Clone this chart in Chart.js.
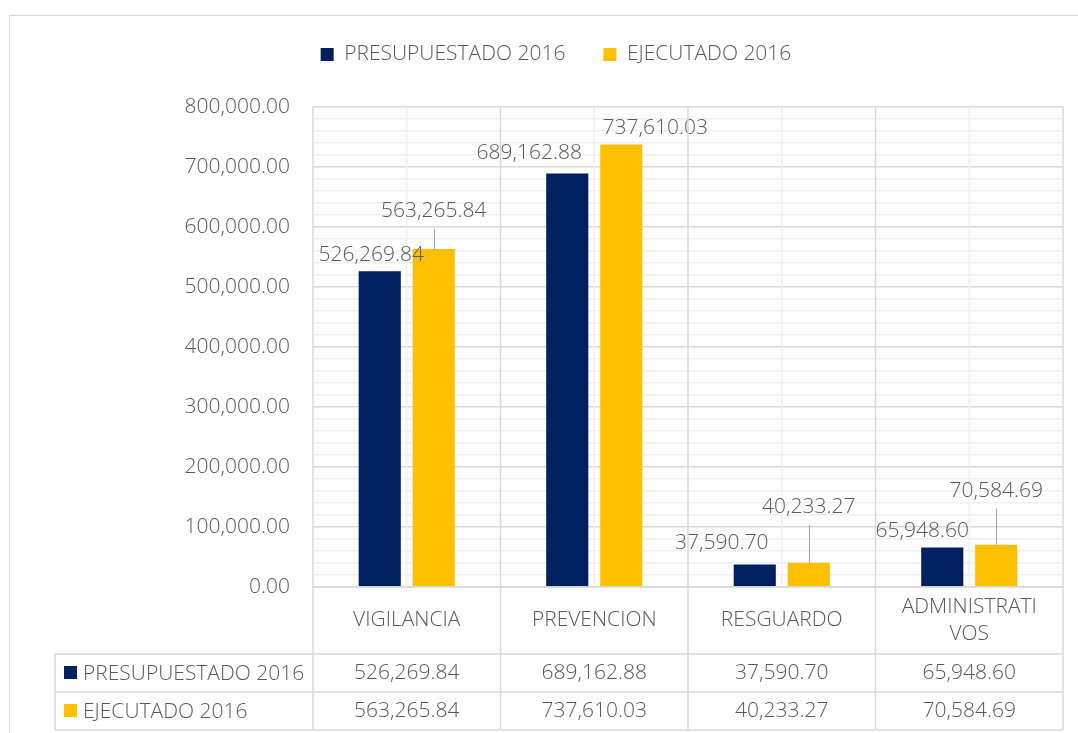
<!DOCTYPE html>
<html>
<head>
<meta charset="utf-8">
<script src="https://cdn.jsdelivr.net/npm/chart.js@4"></script>
<style>
  html, body { margin: 0; padding: 0; background: #fff; }
  #wrap { width: 1078px; height: 733px; position: relative; }
</style>
</head>
<body>
<div id="wrap"><canvas id="chart1"></canvas></div>
<script>
const categories = ['VIGILANCIA', 'PREVENCION', 'RESGUARDO', ['ADMINISTRATI', 'VOS']];
const presupuestado = [526269.84, 689162.88, 37590.70, 65948.60];
const ejecutado = [563265.84, 737610.03, 40233.27, 70584.69];
const seriesNames = ['PRESUPUESTADO 2016', 'EJECUTADO 2016'];
const yMax = 800000;

// label offsets from the bar top (px), per series
const labelShift = [
    [[-8.5, -16], [-38, -20], [-33, -21], [-20, -16.5]],
    [[0, -38], [34, -16], [0, -56], [0, -54]]
];

const txt = '#595959';
const fontFam = '"Open Sans", "Noto Sans", sans-serif';
const fs = 21;
const fmt = v => v.toLocaleString('en-US', { minimumFractionDigits: 2, maximumFractionDigits: 2 });

const tableRowTop = 654;
const tableRowH = 38;
const tableLeft = 55;

const framePlugin = {
    id: 'frame',
    beforeDraw(chart) {
        const ctx = chart.ctx;
        ctx.save();
        ctx.fillStyle = '#fff';
        ctx.fillRect(0, 0, chart.width, chart.height);
        ctx.strokeStyle = '#d9d9d9';
        ctx.lineWidth = 1;
        ctx.strokeRect(9.5, 15.5, 1200, 800);
        ctx.restore();
    },
    beforeInit(chart) {
        const fit = chart.legend.fit;
        chart.legend.fit = function () {
            fit.call(this);
            this.height += 32;
        };
    }
};

const gridPlugin = {
    id: 'vgrid',
    beforeDatasetsDraw(chart) {
        const ctx = chart.ctx, x = chart.scales.x, a = chart.chartArea;
        ctx.save();
        ctx.lineWidth = 1.5;
        categories.forEach((c, i) => {
            const px = x.getPixelForValue(i);
            ctx.strokeStyle = '#f0f0f0';
            ctx.beginPath(); ctx.moveTo(px, a.top); ctx.lineTo(px, a.bottom); ctx.stroke();
        });
        ctx.restore();
    }
};

const tablePlugin = {
    id: 'table',
    afterDraw(chart) {
        const ctx = chart.ctx, x = chart.scales.x, a = chart.chartArea;
        const w = x.width / categories.length;
        const bottom = tableRowTop + tableRowH * 2;
        ctx.save();
        ctx.strokeStyle = '#d9d9d9';
        ctx.lineWidth = 1.5;
        ctx.beginPath();
        ctx.moveTo(a.left, a.top); ctx.lineTo(a.left, bottom);
        categories.forEach((c, i) => {
            const px = x.getPixelForValue(i) + w / 2;
            ctx.moveTo(px, a.top); ctx.lineTo(px, bottom);
        });
        ctx.moveTo(tableLeft, tableRowTop); ctx.lineTo(tableLeft, bottom);
        ctx.moveTo(a.left, a.bottom); ctx.lineTo(a.right, a.bottom);
        for (let r = 0; r <= 2; r++) {
            const y = tableRowTop + r * tableRowH;
            ctx.moveTo(tableLeft, y); ctx.lineTo(a.right, y);
        }
        ctx.stroke();

        ctx.font = '300 ' + fs + 'px ' + fontFam;
        ctx.fillStyle = txt;
        ctx.textAlign = 'center';
        ctx.textBaseline = 'middle';
        const headMid = (a.bottom + tableRowTop) / 2;
        categories.forEach((c, i) => {
            const px = x.getPixelForValue(i);
            const lines = Array.isArray(c) ? c : [c];
            lines.forEach((ln, k) => {
                ctx.fillText(ln, px, headMid + (k - (lines.length - 1) / 2) * 27);
            });
        });
        const rows = [presupuestado, ejecutado];
        rows.forEach((vals, r) => {
            const cy = tableRowTop + r * tableRowH + tableRowH / 2;
            vals.forEach((v, i) => {
                ctx.fillStyle = txt;
                ctx.textAlign = 'center';
                ctx.fillText(fmt(v), x.getPixelForValue(i), cy);
            });
            const ds = chart.data.datasets[r];
            ctx.fillStyle = ds.backgroundColor;
            ctx.fillRect(64, cy - 7, 13, 13);
            ctx.fillStyle = txt;
            ctx.textAlign = 'left';
            ctx.fillText(ds.label, 83, cy + 1);
        });
        ctx.restore();
    }
};

const labelPlugin = {
    id: 'barLabels',
    afterDatasetsDraw(chart) {
        const ctx = chart.ctx;
        ctx.save();
        ctx.font = '300 ' + fs + 'px ' + fontFam;
        ctx.textAlign = 'center';
        ctx.textBaseline = 'middle';
        chart.data.datasets.forEach((ds, d) => {
            chart.getDatasetMeta(d).data.forEach((bar, i) => {
                const [dx, dy] = labelShift[d][i];
                const lx = bar.x + dx, ly = bar.y + dy;
                if (dy < -30) {
                    ctx.strokeStyle = '#a6a6a6';
                    ctx.lineWidth = 1;
                    ctx.beginPath();
                    ctx.moveTo(Math.round(bar.x) + 0.5, ly + 18);
                    ctx.lineTo(Math.round(bar.x) + 0.5, bar.y);
                    ctx.stroke();
                }
                ctx.fillStyle = txt;
                ctx.fillText(fmt(ds.data[i]), lx, ly);
            });
        });
        ctx.restore();
    }
};

const data = {
    labels: categories,
    datasets: [{
        label: seriesNames[0],
        data: presupuestado,
        backgroundColor: '#002060'
    }, {
        label: seriesNames[1],
        data: ejecutado,
        backgroundColor: '#FFC000'
    }]
};

const config = {
    type: 'bar',
    data,
    plugins: [framePlugin, gridPlugin, tablePlugin, labelPlugin],
    options: {
        responsive: true,
        maintainAspectRatio: false,
        animation: false,
        layout: { padding: { left: 49, right: 15, top: 6, bottom: 146 } },
        datasets: { bar: { categoryPercentage: 0.576, barPercentage: 0.78 } },
        plugins: {
            tooltip: { enabled: false },
            legend: {
                position: 'top',
                labels: {
                    boxWidth: 13,
                    boxHeight: 13,
                    padding: 38,
                    color: txt,
                    font: { size: fs, family: fontFam, weight: 300 }
                }
            }
        },
        scales: {
            x: { display: false },
            y: {
                min: 0,
                max: yMax,
                afterFit(scale) { scale.width = 264; },
                border: { display: false },
                grid: {
                    drawTicks: false,
                    lineWidth: 1.5,
                    color: c => (c.tick && c.tick.value % 100000 === 0) ? '#d9d9d9' : '#f0f0f0'
                },
                ticks: {
                    stepSize: 20000,
                    autoSkip: false,
                    padding: 23,
                    color: txt,
                    font: { size: fs, family: fontFam, weight: 300 },
                    callback: v => v % 100000 === 0 ? fmt(v) : ''
                }
            }
        }
    }
};

let chart1 = new Chart(document.getElementById('chart1'), config);
</script>
</body>
</html>
